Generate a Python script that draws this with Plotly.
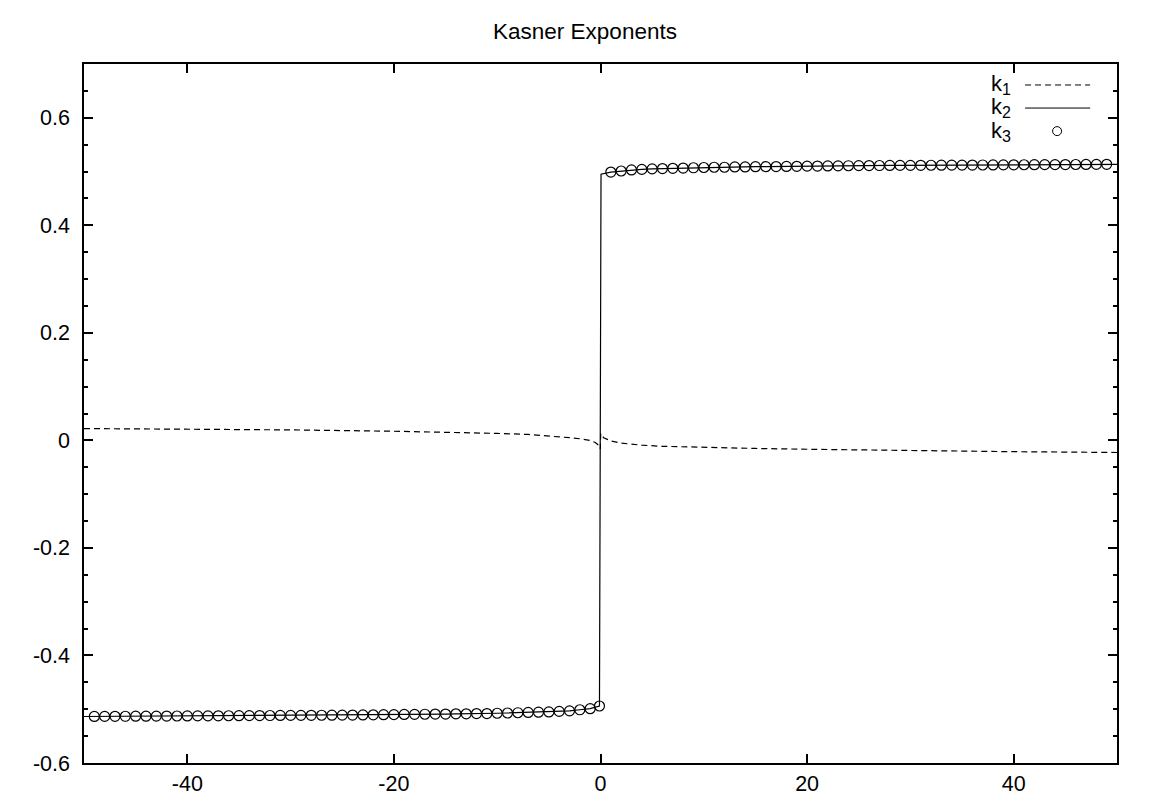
import plotly.graph_objects as go

# ---- data ----
x_neg = [-50, -49, -48, -47, -46, -45, -44, -43, -42, -41, -40, -39, -38, -37, -36, -35, -34, -33, -32, -31,
         -30, -29, -28, -27, -26, -25, -24, -23, -22, -21, -20, -19, -18, -17, -16, -15, -14, -13, -12, -11,
         -10, -9, -8, -7, -6, -5, -4, -3, -2, -1, -0.1]
k2_neg = [-0.5135, -0.5134, -0.5133, -0.5132, -0.5131, -0.5130, -0.5129, -0.5128, -0.5127, -0.5126, -0.5125,
          -0.5124, -0.5123, -0.5122, -0.5121, -0.5120, -0.5119, -0.5118, -0.5117, -0.5116, -0.5115, -0.5114,
          -0.5113, -0.5112, -0.5111, -0.5110, -0.5108, -0.5106, -0.5104, -0.5102, -0.5100, -0.5097, -0.5095,
          -0.5093, -0.5090, -0.5090, -0.5085, -0.5085, -0.5080, -0.5080, -0.5075, -0.5070, -0.5065, -0.5060,
          -0.5055, -0.5050, -0.5040, -0.5030, -0.5010, -0.4990, -0.4940]

x_pos = [0.05, 1, 2, 3, 4, 5, 6, 7, 8, 9, 10, 11, 12, 13, 14, 15, 16, 17, 18, 19, 20, 21, 22, 23, 24, 25,
         26, 27, 28, 29, 30, 31, 32, 33, 34, 35, 36, 37, 38, 39, 40, 41, 42, 43, 44, 45, 46, 47, 48, 49, 50]
k2_pos = [0.4950, 0.4990, 0.5010, 0.5030, 0.5040, 0.5050, 0.5055, 0.5060, 0.5065, 0.5070, 0.5075, 0.5080,
          0.5080, 0.5085, 0.5085, 0.5090, 0.5090, 0.5093, 0.5095, 0.5097, 0.5100, 0.5102, 0.5104, 0.5106,
          0.5108, 0.5110, 0.5111, 0.5112, 0.5113, 0.5114, 0.5115, 0.5116, 0.5117, 0.5118, 0.5119, 0.5120,
          0.5121, 0.5122, 0.5123, 0.5124, 0.5125, 0.5126, 0.5127, 0.5128, 0.5129, 0.5130, 0.5131, 0.5132,
          0.5133, 0.5134, 0.5135]

k1_x = [-50, -40, -30, -20, -15, -10, -7, -5, -3, -2, -1, -0.5, -0.2, -0.02,
        0.02, 0.3, 0.7, 1, 2, 4, 6, 8, 12, 15, 20, 30, 40, 50]
k1_y = [0.022, 0.021, 0.0195, 0.017, 0.0155, 0.013, 0.011, 0.0085, 0.005, 0.003, 0.0, -0.004, -0.009, -0.016,
        0.013, 0.005, 0.001, -0.001, -0.005, -0.009, -0.011, -0.012, -0.0135, -0.015, -0.0165, -0.019, -0.021, -0.0225]

# k3 samples (open circles) lie on the k2 curve
k3_x = x_neg[1:] + x_pos[1:-1]
k3_y = k2_neg[1:] + k2_pos[1:-1]

x_tick_vals = [-40, -20, 0, 20, 40]
x_tick_text = ["-40", "-20", "0", "20", "40"]
y_tick_vals = [-0.6, -0.4, -0.2, 0, 0.2, 0.4, 0.6]
y_tick_text = ["-0.6", "-0.4", "-0.2", "0", "0.2", "0.4", "0.6"]

legend_labels = ["<span style='font-size:22px'>k</span><sub><span style='font-size:16px'>1</span></sub>",
                 "<span style='font-size:22px'>k</span><sub><span style='font-size:16px'>2</span></sub>",
                 "<span style='font-size:22px'>k</span><sub><span style='font-size:16px'>3</span></sub>"]

FONT = "Liberation Sans, Arial, Helvetica, sans-serif"

fig = go.Figure()
fig.add_trace(go.Scatter(x=k1_x, y=k1_y, mode="lines", name="k1", showlegend=False,
                         line=dict(color="black", width=1.2, dash="6px,4px")))
fig.add_trace(go.Scatter(x=x_neg + x_pos, y=k2_neg + k2_pos, mode="lines", name="k2", showlegend=False,
                         line=dict(color="black", width=1.2)))
fig.add_trace(go.Scatter(x=k3_x, y=k3_y, mode="markers", name="k3", showlegend=False,
                         marker=dict(symbol="circle-open", size=10, color="black", line=dict(width=1.2, color="black"))))

# manual legend (gnuplot style: label on the left, sample on the right)
rows_y = [0.970, 0.937, 0.904]
fig.add_annotation(x=0.899, y=rows_y[1], xref="paper", yref="paper", text="<br>".join(legend_labels),
                   showarrow=False, align="right", xanchor="right", yanchor="middle",
                   font=dict(size=18, family=FONT, color="black"))
fig.add_shape(type="line", xref="paper", yref="paper", x0=0.911, x1=0.974, y0=rows_y[0], y1=rows_y[0],
              line=dict(color="black", width=1, dash="6px,4px"))
fig.add_shape(type="line", xref="paper", yref="paper", x0=0.911, x1=0.974, y0=rows_y[1], y1=rows_y[1],
              line=dict(color="black", width=1))
fig.add_shape(type="circle", xref="paper", yref="paper", xsizemode="pixel", ysizemode="pixel",
              xanchor=0.942, yanchor=rows_y[2], x0=-4.5, x1=4.5, y0=-4.5, y1=4.5,
              line=dict(color="black", width=1))

fig.update_layout(
    width=1154, height=806,
    margin=dict(l=76, r=45, t=56, b=51),
    paper_bgcolor="white", plot_bgcolor="white",
    font=dict(family=FONT, size=21, color="black"),
    title=dict(text="Kasner Exponents", x=0.5, xanchor="center", y=1 - 23 / 806, yanchor="middle",
               yref="container", font=dict(size=22.5, family=FONT, color="black")),
    showlegend=False,
)
fig.update_xaxes(range=[-50, 50], tickmode="array", tickvals=x_tick_vals, ticktext=x_tick_text,
                 ticks="inside", ticklen=9, tickwidth=1.5,
                 tickcolor="black", showline=True, linecolor="black", linewidth=1.5, mirror="allticks",
                 showgrid=False, zeroline=False, tickfont=dict(size=21.5, family=FONT))
fig.update_yaxes(range=[-0.6, 0.7], tickmode="array", tickvals=y_tick_vals, ticktext=y_tick_text,
                 ticks="inside", ticklen=9, tickwidth=1.5, ticklabelstandoff=8,
                 tickcolor="black", showline=True, linecolor="black", linewidth=1.5, mirror="allticks",
                 showgrid=False, zeroline=False, tickfont=dict(size=21.5, family=FONT),
                 minor=dict(dtick=0.05, tick0=0, ticks="inside", ticklen=4, tickwidth=1.5, tickcolor="black",
                            showgrid=False))

fig.write_html("out.html")
